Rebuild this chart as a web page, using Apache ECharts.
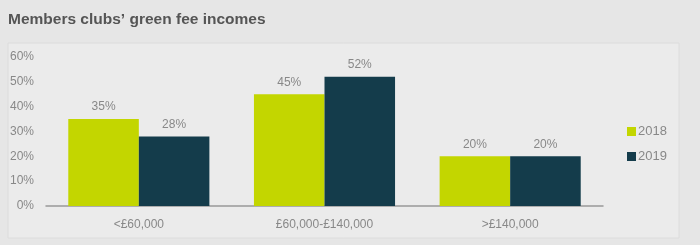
<!DOCTYPE html>
<html><head><meta charset="utf-8">
<script src="https://cdn.jsdelivr.net/npm/echarts@6/dist/echarts.min.js"></script>
<style>html,body{margin:0;padding:0;background:#e6e6e6;}#c{width:700px;height:245px;}</style>
</head><body><div id="c"></div>
<script>
const categories = ['<£60,000', '£60,000-£140,000', '>£140,000'];
const s2018 = [35, 45, 20];
const s2019 = [28, 52, 20];
const yTicks = [0, 10, 20, 30, 40, 50, 60];
const chart = echarts.init(document.getElementById('c'), null, {renderer: 'canvas'});
const lbl = {show: true, position: 'top', formatter: '{c}%', color: '#888', fontSize: 12, fontFamily: 'Liberation Sans, Arial', distance: 6};
chart.setOption({
  backgroundColor: '#e6e6e6',
  animation: false,
  title: {text: 'Members clubs’ green fee incomes', left: 3, top: 7,
    textStyle: {fontSize: 15.5, fontWeight: 'bold', color: '#555', fontFamily: 'Liberation Sans, Arial'}},
  graphic: [{type: 'rect', shape: {x: 8, y: 43, width: 671, height: 195}, z: -10,
    style: {fill: '#ebebeb', stroke: '#dcdcdc', lineWidth: 1}}],
  legend: {orient: 'vertical', left: 622, top: 120, itemWidth: 9, itemHeight: 9, itemGap: 12,
    icon: 'rect', textStyle: {color: '#888', fontSize: 13, fontFamily: 'Liberation Sans, Arial', padding: [0,0,0,-3]},
    data: ['2018', '2019']},
  grid: {left: 46, right: 97, top: 57, bottom: 39},
  xAxis: {type: 'category', data: categories,
    axisLine: {lineStyle: {color: '#999', width: 1.5}}, axisTick: {show: false},
    axisLabel: {color: '#888', fontSize: 12, fontFamily: 'Liberation Sans, Arial', margin: 13}},
  yAxis: {type: 'value', min: 0, max: 60, interval: 10,
    splitLine: {show: false}, axisLine: {show: false}, axisTick: {show: false},
    axisLabel: {color: '#888', fontSize: 12, fontFamily: 'Liberation Sans, Arial', margin: 12,
      formatter: v => yTicks.includes(v) ? v + '%' : ''}},
  series: [
    {name: '2018', type: 'bar', data: s2018, itemStyle: {color: '#c3d600'}, barGap: '0%', barCategoryGap: '24%', label: lbl},
    {name: '2019', type: 'bar', data: s2019, itemStyle: {color: '#143c4b'}, label: lbl}
  ]
});
</script></body></html>
